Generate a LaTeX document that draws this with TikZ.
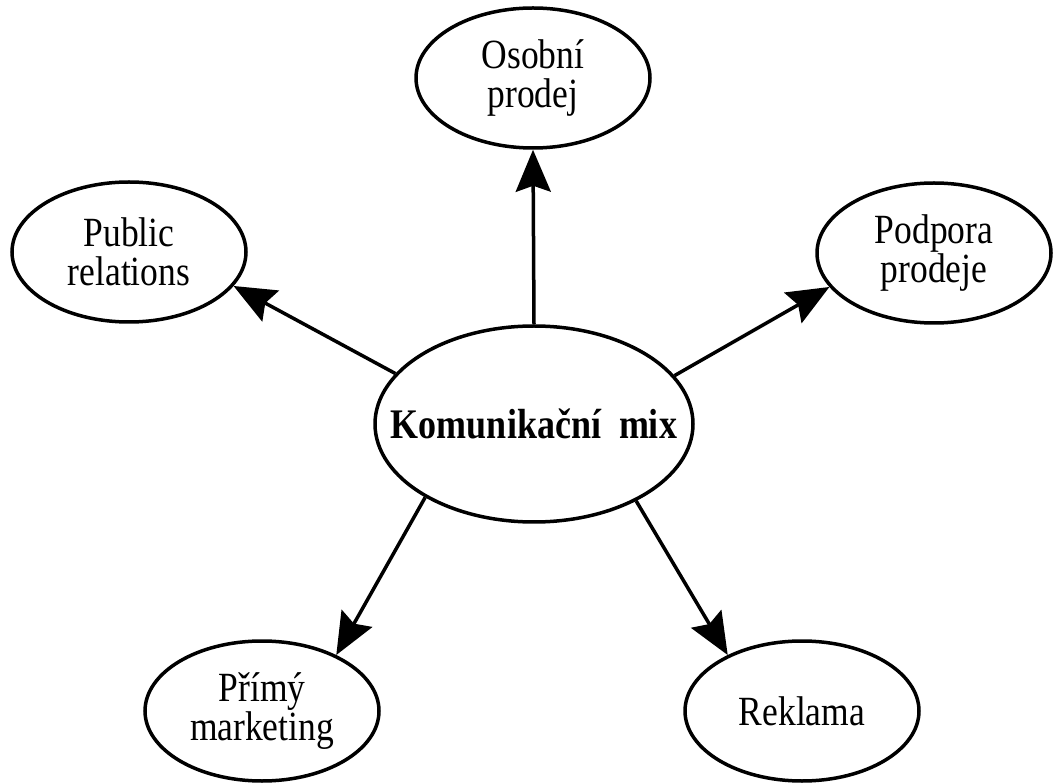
\documentclass[tikz,border=0pt]{standalone}
\usepackage{fontspec}
\usepackage{graphicx}
\setmainfont{Liberation Serif}
\usetikzlibrary{shapes.geometric,arrows.meta}
\newcommand{\tl}[1]{\scalebox{1}[1.17]{#1}}
\begin{document}
\begin{tikzpicture}[x=1pt,y=-1pt,
  outerbox/.style={ellipse,draw,line width=3.5pt,minimum width=234pt,minimum height=140pt,inner sep=0pt,align=center,font=\fontsize{35.5}{39}\selectfont},
  centerbox/.style={ellipse,draw,line width=3.5pt,minimum width=318pt,minimum height=196pt,inner sep=0pt,font=\fontsize{36}{40}\selectfont\bfseries},
  conn/.style={line width=3.5pt,-{Stealth[length=42pt,width=35pt,inset=6pt]}}]
\useasboundingbox (0,0) rectangle (1053,783);
\node[centerbox] (mix) at (534,424) {\makebox[0pt]{\tl{Komunikační\hspace{18pt}mix}}};
\node[outerbox] (osobni) at (533,78) {\tl{Osobní}\\\tl{prodej}};
\node[outerbox] (pr) at (129,252) {\tl{Public}\\\tl{relations}};
\node[outerbox] (podpora) at (934,253) {\tl{Podpora}\\\tl{prodeje}};
\node[outerbox] (primy) at (262,711) {\tl{Přímý}\\\tl{marketing}};
\node[outerbox] (reklama) at (802,711) {\tl{Reklama}};
\draw[conn] (mix.90) -- (osobni.-90);
\draw[conn] (mix.160.8) -- (pr.-18);
\draw[conn] (mix.19.2) -- (podpora.198);
\draw[conn] (mix.214.9) -- (primy.37.3);
\draw[conn] (mix.-37.4) -- (reklama.143.2);
\end{tikzpicture}
\end{document}
